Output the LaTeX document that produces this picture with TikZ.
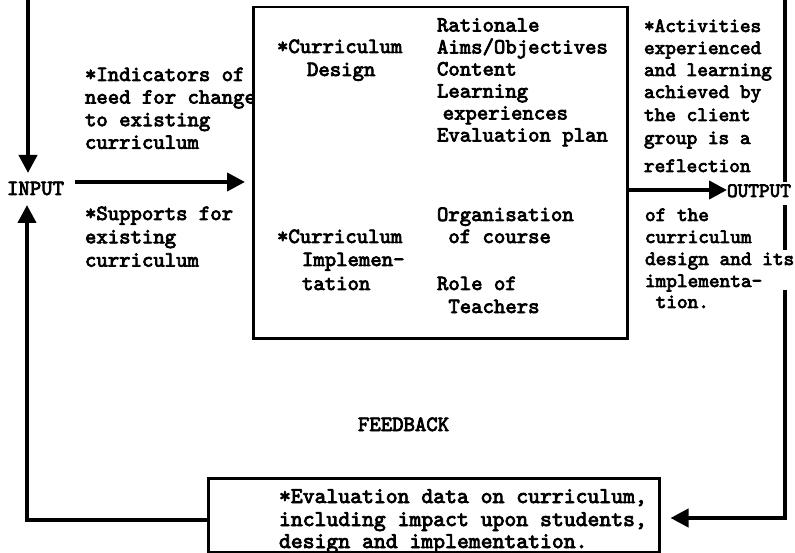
\documentclass[tikz,border=0pt]{standalone}
\usepackage{fontspec}
\newfontfamily\typew{lmmono10-regular.otf}[FakeBold=3.5]
\usetikzlibrary{arrows.meta}
\newcommand{\chsp}[1]{\hspace*{#1\fontcharwd\font`\x}}
\begin{document}
\begin{tikzpicture}[x=1pt,y=-1pt,
  txt/.style={anchor=base west, inner sep=0pt, outer sep=0pt, font=\typew\fontsize{21.7}{26}\selectfont},
  txtr/.style={txt, font=\typew\fontsize{20.3}{26}\selectfont},
  txtb/.style={txt, font=\typew\fontsize{22.6}{26}\selectfont},
  flow/.style={line width=4pt, -{Triangle[length=18pt,width=18pt]}},
  wire/.style={line width=4pt},
  frame/.style={draw, line width=2.5pt, inner sep=0pt, anchor=north west}]

\useasboundingbox (0,0) rectangle (795,553);

% boxes
\node[frame, minimum width=374pt, minimum height=331pt] (sys) at (252,6) {};
\node[frame, minimum width=451pt, minimum height=74pt] (fb) at (207,477) {};

% labels
\node[txt] (input) at (7,195) {INPUT};
\node[txtr] (output) at (727,197) {OUTPUT};
\node[txt] (feedback) at (358,431) {FEEDBACK};

% left texts
\foreach \t [count=\i from 0] in {{*Indicators of},{need for change},{to existing},{curriculum}}
  \node[txt] (ind\i) at (85,{81+22.6*\i}) {\t};
\foreach \t [count=\i from 0] in {{*Supports for},{existing},{curriculum}}
  \node[txt] (sup\i) at (85,{220+23.3*\i}) {\t};

% inside main box
\node[txt] (cd0) at (277,53) {*Curriculum};
\node[txt] (cd1) at (307,76) {Design};
\foreach \t [count=\i from 0] in {{Rationale},{Aims/Objectives},{Content},{Learning},{\chsp{0.5}experiences},{Evaluation plan}}
  \node[txt] (dl\i) at (437,{31.5+22*\i}) {\t};
\node[txt] (ci0) at (277,243) {*Curriculum};
\node[txt] (ci1) at (302,266) {Implemen-};
\node[txt] (ci2) at (302,290) {tation};
\node[txt] (il0) at (437,221) {Organisation};
\node[txt] (il1) at (437,243) {\chsp{1}of course};
\node[txt] (il2) at (437,290) {Role of};
\node[txt] (il3) at (437,313) {\chsp{1}Teachers};

% right texts
\node[txtr] (ra0) at (644,32) {*Activities};
\node[txtr] (ra1) at (644,54) {experienced};
\node[txtr] (ra2) at (644,76) {and learning};
\node[txtr] (ra3) at (644,98) {achieved by};
\node[txtr] (ra4) at (644,121) {the client};
\node[txtr] (ra5) at (644,144) {group is a};
\node[txtr] (ra6) at (644,172) {reflection};
\node[txtr] (rb0) at (645,221) {of the};
\node[txtr] (rb1) at (645,243) {curriculum};
\node[txtr] (rb2) at (645,265) {design and its};
\node[txtr] (rb3) at (645,287) {implementa-};
\node[txtr] (rb4) at (645,308) {\chsp{1}tion.};

% bottom box text
\node[txtb] (ev0) at (279,503) {*Evaluation data on curriculum,};
\node[txtb] (ev1) at (279,526) {including impact upon students,};
\node[txtb] (ev2) at (279,548) {design and implementation.};

% connectors
\coordinate (tl) at (28,0);
\coordinate (inT) at (28,173);
\draw[flow] (tl) -- (inT);
\draw[flow] ([xshift=11pt]input.east |- 0,182) -- ([xshift=-7pt]sys.west |- 0,182);
\draw[flow] (sys.east |- 0,190) -- (output.west |- 0,190);

\coordinate (tr) at (785,0);
\coordinate (tr1) at (785,182);
\coordinate (tr2) at (785,205);
\coordinate (tr3) at (785,250);
\coordinate (tr4) at (785,290);
\coordinate (rc) at (785,518);
\draw[wire] (tr) -- (tr1);
\draw[wire] (tr2) -- (tr3);
\draw[flow, shorten >=10pt] (tr4) -- (rc) -- (fb.east |- rc);

\coordinate (lc) at (27,520);
\coordinate (inB) at (27,205);
\draw[flow] (fb.west |- lc) -- (lc) -- (inB);
\end{tikzpicture}
\end{document}
